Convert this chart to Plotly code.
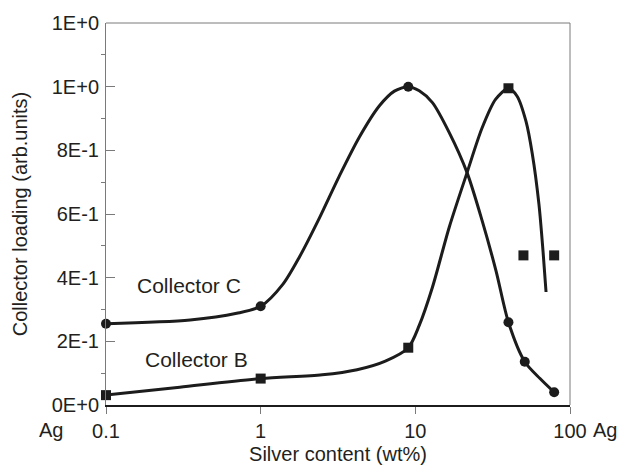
import plotly.graph_objects as go

# ---- data ----
# Collector C markers (circles)
c_x = [0.1, 1, 9, 40, 51, 79]
c_y = [0.255, 0.31, 1.0, 0.26, 0.136, 0.04]
# Collector B markers (squares)
b_x = [0.1, 1, 9, 40, 50, 79]
b_y = [0.031, 0.083, 0.18, 0.995, 0.47, 0.47]

# smoothed curves as traced on the picture
c_curve_x = [0.1, 0.35, 0.7, 1.0, 1.39, 1.785, 2.4, 3.23, 4.35, 5.86, 7.32,
             9.0, 10.6, 12.9, 16.6, 21.6, 27.0, 33.3, 40, 51, 64, 79]
c_curve_y = [0.255, 0.267, 0.288, 0.31, 0.379, 0.466, 0.588, 0.72, 0.842, 0.94, 0.986,
             1.0, 0.987, 0.95, 0.855, 0.73, 0.58, 0.42, 0.26, 0.136, 0.083, 0.04]
b_curve_x = [0.1, 0.3, 1.0, 2.5, 4.2, 6.4, 9.0, 10.6, 12.9, 16.6, 21.6, 27, 33, 40,
             45.5, 52, 57, 63, 67, 70]
b_curve_y = [0.031, 0.056, 0.083, 0.095, 0.111, 0.138, 0.18, 0.25, 0.37, 0.56, 0.73, 0.87, 0.96, 0.995,
             0.97, 0.89, 0.79, 0.63, 0.48, 0.355]

x_tickvals = [0.1, 1, 10, 100]
x_ticktext = ["0.1", "1", "10", "100"]
y_tickvals = [0, 0.2, 0.4, 0.6, 0.8, 1.0, 1.2]
y_ticktext = ["0E+0", "2E-1", "4E-1", "6E-1", "8E-1", "1E+0", "1E+0"]
y_minor = [0.1, 0.3, 0.5, 0.7, 0.9, 1.1]

INK = "#1c1c1c"
TXT = "#231f20"
GRAY = "#7a7a7a"

fig = go.Figure()
fig.add_trace(go.Scatter(x=c_curve_x, y=c_curve_y, mode="lines",
                         line=dict(color=INK, width=3, shape="spline", smoothing=0.8),
                         hoverinfo="skip", cliponaxis=False))
fig.add_trace(go.Scatter(x=b_curve_x, y=b_curve_y, mode="lines",
                         line=dict(color=INK, width=3, shape="spline", smoothing=0.8),
                         hoverinfo="skip", cliponaxis=False))
fig.add_trace(go.Scatter(x=c_x, y=c_y, mode="markers", name="Collector C",
                         marker=dict(symbol="circle", size=10, color=INK), cliponaxis=False))
fig.add_trace(go.Scatter(x=b_x, y=b_y, mode="markers", name="Collector B",
                         marker=dict(symbol="square", size=10, color=INK), cliponaxis=False))

fig.update_layout(
    width=625, height=474,
    margin=dict(l=106, r=55, t=15, b=67),
    paper_bgcolor="white", plot_bgcolor="white",
    showlegend=False,
    font=dict(family="Liberation Sans, Arial, sans-serif", size=20, color=TXT),
)
fig.update_xaxes(
    type="log", range=[-1, 2],
    tickvals=x_tickvals, ticktext=x_ticktext,
    ticks="outside", ticklen=7, tickcolor=GRAY, tickwidth=1,
    showline=True, linecolor=INK, linewidth=2,
    showgrid=False, zeroline=False,
    tickfont=dict(size=20),
    title=dict(text="Silver content (wt%)", font=dict(size=20), standoff=6),
)
fig.update_yaxes(
    range=[0, 1.2],
    tickvals=y_tickvals, ticktext=y_ticktext,
    ticks="inside", ticklen=9, tickcolor=GRAY, tickwidth=1,
    minor=dict(tickvals=y_minor, ticks="outside", ticklen=4, tickcolor=GRAY, tickwidth=1),
    showline=True, linecolor=GRAY, linewidth=1,
    showgrid=False, zeroline=False,
    tickfont=dict(size=20),
    ticklabelstandoff=2,
    title=dict(text="Collector loading (arb.units)", font=dict(size=20), standoff=18),
)

# top and right frame
fig.add_shape(type="line", xref="paper", yref="paper", x0=0, x1=1, y0=1, y1=1,
              line=dict(color=GRAY, width=1))
fig.add_shape(type="line", xref="paper", yref="paper", x0=1, x1=1, y0=0, y1=1,
              line=dict(color=GRAY, width=1))

annos = [
    dict(text="Collector C", x=-0.466, y=0.374, xref="x", yref="y", size=21),
    dict(text="Collector B", x=-0.413, y=0.143, xref="x", yref="y", size=21),
    dict(text="Ag", x=-0.1185, y=-0.066, xref="paper", yref="paper", size=20),
    dict(text="Ag", x=1.0754, y=-0.066, xref="paper", yref="paper", size=20),
]
for a in annos:
    fig.add_annotation(text=a["text"], x=a["x"], y=a["y"], xref=a["xref"], yref=a["yref"],
                       showarrow=False, xanchor="center", yanchor="middle",
                       font=dict(size=a["size"], color=TXT))

fig.write_html("out.html")
